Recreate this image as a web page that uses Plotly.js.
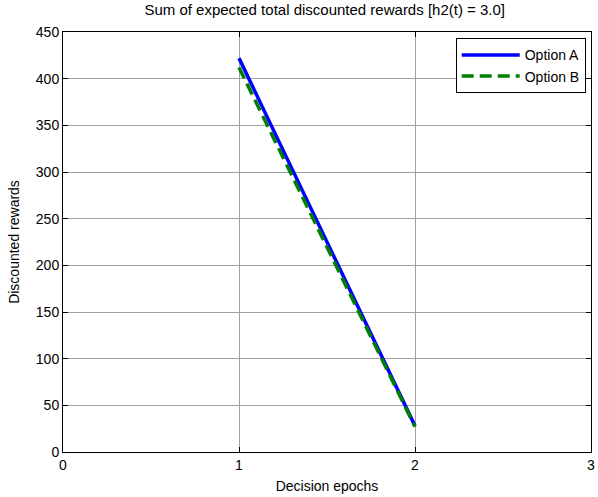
<!DOCTYPE html>
<html>
<head>
<meta charset="utf-8">
<script src="https://cdn.plot.ly/plotly-3.0.1.min.js"></script>
<style>html,body{margin:0;padding:0;background:#fff;}#chart{width:598px;height:497px;}</style>
</head>
<body>
<div id="chart"></div>
<script>
const epochs = [1, 2];
const optionA = [422, 28];
const optionB = [412, 27];
const xTicks = [0, 1, 2, 3];
const yTicks = [0, 50, 100, 150, 200, 250, 300, 350, 400, 450];

const traces = [
  {x: epochs, y: optionA, mode: 'lines', name: 'Option A', line: {color: '#0000ff', width: 3.5}},
  {x: epochs, y: optionB, mode: 'lines', name: 'Option B', line: {color: '#008000', width: 3.5, dash: '12px,6px'}}
];
const axisCommon = {
  showline: true, linecolor: '#000', linewidth: 1, mirror: 'ticks',
  ticks: 'inside', ticklen: 5, tickcolor: '#000',
  showgrid: true, gridcolor: '#a0a0a0', gridwidth: 1, zeroline: false,
  tickfont: {family: 'Liberation Sans, Arial', size: 14, color: '#000'}
};
const layout = {
  width: 598, height: 497,
  margin: {l: 63, r: 7, t: 32, b: 45},
  paper_bgcolor: '#fff', plot_bgcolor: '#fff',
  font: {family: 'Liberation Sans, Arial', size: 14, color: '#000'},
  title: {text: 'Sum of expected total discounted rewards [h2(t) = 3.0]', x: 0.543, xanchor: 'center', y: 0.99, yanchor: 'top', font: {size: 15}},
  xaxis: Object.assign({}, axisCommon, {range: [0, 3], tickvals: xTicks, title: {text: 'Decision epochs', standoff: 9, font: {size: 14}}}),
  yaxis: Object.assign({}, axisCommon, {range: [0, 450], tickvals: yTicks, title: {text: 'Discounted rewards', standoff: 12, font: {size: 14}}}),
  showlegend: true,
  legend: {x: 0.99, xanchor: 'right', y: 0.985, yanchor: 'top', bgcolor: '#fff', bordercolor: '#000', borderwidth: 1, font: {size: 14}, tracegroupgap: 0, itemwidth: 58}
};
Plotly.newPlot('chart', traces, layout, {displayModeBar: false, staticPlot: true});
</script>
</body>
</html>
